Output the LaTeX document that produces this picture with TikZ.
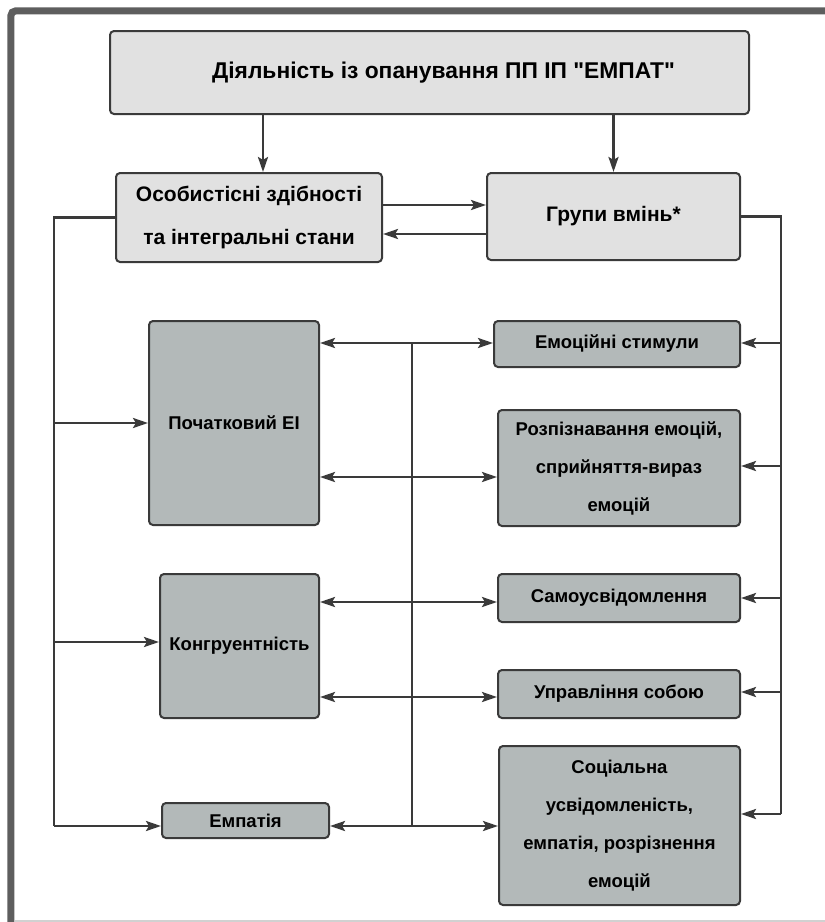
\documentclass[tikz,border=0pt]{standalone}
\usepackage{fontspec}
\setmainfont{Liberation Sans}[Ligatures=TeXOff]
\usepackage{tikz}
\usetikzlibrary{arrows.meta}
\definecolor{framecol}{RGB}{94,94,94}
\definecolor{boxline}{RGB}{58,58,58}
\definecolor{linecol}{RGB}{58,58,58}
\definecolor{topfill}{RGB}{225,225,225}
\definecolor{lowfill}{RGB}{179,185,185}
\tikzset{
        topbox/.style={draw=boxline,fill=topfill,rounded corners=4pt,line width=2pt,inner sep=0pt,align=center,font=\bfseries\fontsize{21}{43}\selectfont},
        lowbox/.style={draw=boxline,fill=lowfill,rounded corners=4pt,line width=2pt,inner sep=0pt,align=center,font=\bfseries\fontsize{18.5}{38}\selectfont},
        link/.style={draw=linecol,line width=2.6pt},
        onearrow/.style={link,-{Stealth[length=15pt,width=10pt,inset=3pt]}},
        twoarrow/.style={link,{Stealth[length=15pt,width=10pt,inset=3pt]}-{Stealth[length=15pt,width=10pt,inset=3pt]}}
    }
\begin{document}
\begin{tikzpicture}[x=1pt,y=-1pt]

\useasboundingbox (0,0) rectangle (825,922);
\fill[white] (0,0) rectangle (825,922);
\draw[framecol,line width=7pt,rounded corners=5pt] (10.8,925) -- (10.8,10.8) -- (830,10.8);
\draw[black!18,line width=2pt] (14.5,921) -- (825,921);

\draw (429.5,72.5) node(TOP)[topbox,minimum width=639,minimum height=83,font=\bfseries\fontsize{22.8}{27}\selectfont]{\hspace*{28pt}Діяльність із опанування ПП ІП "ЕМПАТ"};
\draw (249,217.5) node(OSOB)[topbox,minimum width=266,minimum height=89]{Особистісні здібності\\та інтегральні стани};
\draw (613.5,216.5) node(GRUP)[topbox,minimum width=253,minimum height=87]{Групи вмінь*};

\draw (234,423) node(POCH)[lowbox,minimum width=170,minimum height=204]{Початковий ЕІ};
\draw (239.5,646) node(KONG)[lowbox,minimum width=159,minimum height=144]{Конгруентність};
\draw (245.5,820.5) node(EMP)[lowbox,minimum width=167,minimum height=35]{Емпатія};
\draw (617,344) node(STIM)[lowbox,minimum width=246,minimum height=46]{Емоційні стимули};
\draw (619,468) node(ROZP)[lowbox,minimum width=242,minimum height=116]{Розпізнавання емоцій,\\сприйняття-вираз\\емоцій};
\draw (619,598) node(SAMO)[lowbox,minimum width=242,minimum height=48]{Самоусвідомлення};
\draw (619,694) node(UPR)[lowbox,minimum width=242,minimum height=48]{Управління собою};
\draw (619.5,825.5) node(SOC)[lowbox,minimum width=241,minimum height=159]{Соціальна\\усвідомленість,\\емпатія, розрізнення\\емоцій};

\coordinate (OSOBIN) at ([xshift=14pt]OSOB.north);
\coordinate (OG) at ([yshift=12.5pt]OSOB.east);
\coordinate (GO) at ([yshift=-17.5pt]GRUP.west);
\coordinate (LTOP) at (54,217.5);
\coordinate (LPOCH) at (54,423);
\coordinate (LKONG) at (54,642);
\coordinate (LEMP) at (54,826);
\coordinate (RTOP) at (781,216.5);
\coordinate (RSTIM) at (781,343);
\coordinate (RROZP) at (781,466);
\coordinate (RSAMO) at (781,598);
\coordinate (RUPR) at (781,692);
\coordinate (RSOC) at (781,814);
\coordinate (MSTIM) at (412,343);
\coordinate (MROZP) at (412,477);
\coordinate (MSAMO) at (412,602);
\coordinate (MUPR) at (412,697);
\coordinate (MSOC) at (412,826);

\draw[onearrow] (OSOBIN |- TOP.south) -- (OSOBIN);
\draw[onearrow] (GRUP.north |- TOP.south) -- (GRUP.north);
\draw[onearrow] (OG) -- (OG -| GRUP.west);
\draw[onearrow] (GO) -- (GO -| OSOB.east);

\draw[link] (OSOB.west) -- (LTOP) -- (LEMP);
\draw[onearrow] (LPOCH) -- (LPOCH -| POCH.west);
\draw[onearrow] (LKONG) -- (LKONG -| KONG.west);
\draw[onearrow] (LEMP) -- (LEMP -| EMP.west);

\draw[link] (GRUP.east) -- (RTOP) -- (RSOC);
\draw[onearrow] (RSTIM) -- (RSTIM -| STIM.east);
\draw[onearrow] (RROZP) -- (RROZP -| ROZP.east);
\draw[onearrow] (RSAMO) -- (RSAMO -| SAMO.east);
\draw[onearrow] (RUPR) -- (RUPR -| UPR.east);
\draw[onearrow] (RSOC) -- (RSOC -| SOC.east);

\draw[link] (MSTIM) -- (MSOC);
\draw[twoarrow] (MSTIM -| POCH.east) -- (MSTIM -| STIM.west);
\draw[twoarrow] (MROZP -| POCH.east) -- (MROZP -| ROZP.west);
\draw[twoarrow] (MSAMO -| KONG.east) -- (MSAMO -| SAMO.west);
\draw[twoarrow] (MUPR -| KONG.east) -- (MUPR -| UPR.west);
\draw[twoarrow] (MSOC -| EMP.east) -- (MSOC -| SOC.west);

\end{tikzpicture}
\end{document}
